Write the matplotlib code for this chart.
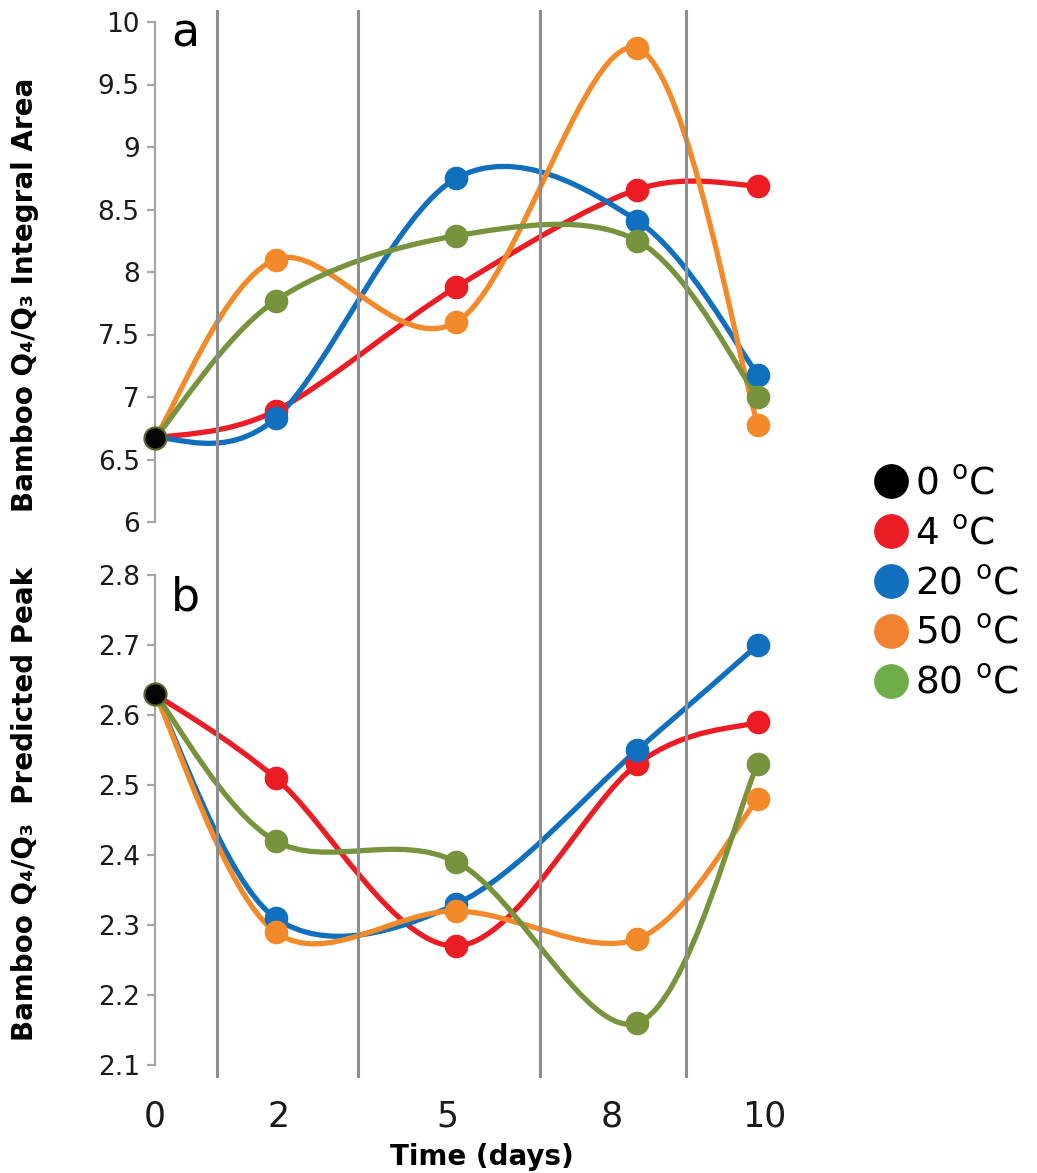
import numpy as np
import matplotlib
matplotlib.use('Agg')
import matplotlib.pyplot as plt
from matplotlib.path import Path
from matplotlib.patches import PathPatch
from matplotlib.lines import Line2D
from matplotlib.transforms import blended_transform_factory

# data
DAYS = [0, 2, 5, 8, 10]
DAY_LABELS = ['0', '2', '5', '8', '10']
TEMPS = ['4', '20', '50', '80']

START_AREA = 6.67
START_PEAK = 2.63

AREA_4C = [6.67, 6.89, 7.88, 8.66, 8.69]
AREA_20C = [6.67, 6.83, 8.75, 8.41, 7.18]
AREA_50C = [6.67, 8.10, 7.60, 9.79, 6.78]
AREA_80C = [6.67, 7.77, 8.29, 8.25, 7.00]

PEAK_4C = [2.63, 2.51, 2.27, 2.53, 2.59]
PEAK_20C = [2.63, 2.31, 2.33, 2.55, 2.70]
PEAK_50C = [2.63, 2.29, 2.32, 2.28, 2.48]
PEAK_80C = [2.63, 2.42, 2.39, 2.16, 2.53]

# vertical divider lines (days)
DIVIDERS = [1.03, 3.37, 6.38, 8.81]
# where the category labels sit under the axis
LABEL_POS = [0, 2.05, 4.85, 7.57, 10.1]

COLORS = ['#EC1C24', '#1070BE', '#F28A2A', '#77933C']
LEGEND_COLORS = ['#000000', '#EC1C24', '#1070BE', '#F08232', '#6EAD47']
GREY = '#8E8E8E'

W, H = 1037, 1173


def _smooth_path(ax, xs, ys):
	""" Excel-like smoothed line: cubic bezier segments built in screen space. """
	pts = ax.transData.transform(np.column_stack([xs, ys]))
	n = len(pts)
	verts = [pts[0]]
	codes = [Path.MOVETO]
	for i in range(n - 1):
		p0 = pts[max(i - 1, 0)]
		p1 = pts[i]
		p2 = pts[i + 1]
		p3 = pts[min(i + 2, n - 1)]
		verts += [p1 + (p2 - p0) / 6.0, p2 - (p3 - p1) / 6.0, p2]
		codes += [Path.CURVE4] * 3
	verts = ax.transData.inverted().transform(np.array(verts))
	return Path(verts, codes)


def _style_axis(ax, ylim, step):
	ax.set_xlim(0, 10.7)
	ax.set_ylim(*ylim)
	for side in ['top', 'right', 'bottom']:
		ax.spines[side].set_visible(False)
	ax.spines['left'].set_color('#A6A6A6')
	ax.spines['left'].set_linewidth(1.6)
	ax.set_yticks(np.arange(ylim[0], ylim[1] + step / 2, step))
	ax.tick_params(axis='y', direction='out', length=6, width=1.6, color='#A6A6A6',
		labelsize=19, pad=5, labelcolor='#1a1a1a')
	ax.tick_params(axis='x', length=0)
	ax.patch.set_visible(False)


def _draw_series(ax, series, start):
	for vals, color in zip(series, COLORS):
		path = _smooth_path(ax, DAYS, vals)
		ax.add_patch(PathPatch(path, fill=False, edgecolor=color, lw=3.8,
			capstyle='round', joinstyle='round', clip_on=False, zorder=3))
		ax.plot(DAYS[1:], vals[1:], 'o', ms=16, color=color, mec=color, clip_on=False, zorder=4)
	ax.plot([DAYS[0]], [start], 'o', ms=16, color='#050505', mec='#5C6B2A', mew=1.5,
		clip_on=False, zorder=5)


fig = plt.figure(figsize=(W / 100, H / 100), dpi=100)

ax_a = fig.add_axes([155 / W, 1 - 522 / H, 645 / W, 500 / H])
ax_b = fig.add_axes([155 / W, 1 - 1065 / H, 645 / W, 490 / H])

_style_axis(ax_a, (6, 10), 0.5)
_style_axis(ax_b, (2.1, 2.8), 0.1)
ax_a.set_yticklabels(['6', '6.5', '7', '7.5', '8', '8.5', '9', '9.5', '10'])
ax_a.set_xticks([])
ax_b.set_yticklabels(['2.1', '2.2', '2.3', '2.4', '2.5', '2.6', '2.7', '2.8'])
ax_b.set_xticks(LABEL_POS)
ax_b.set_xticklabels(DAY_LABELS)
ax_b.tick_params(axis='x', labelsize=25, pad=25, labelcolor='#1a1a1a')

# divider lines running through both panels
trans = blended_transform_factory(ax_b.transData, fig.transFigure)
for d in DIVIDERS:
	fig.add_artist(Line2D([d, d], [1 - 11 / H, 1 - 1076 / H], transform=trans,
		color=GREY, lw=2.2, zorder=1))

_draw_series(ax_a, [AREA_4C, AREA_20C, AREA_50C, AREA_80C], START_AREA)
_draw_series(ax_b, [PEAK_4C, PEAK_20C, PEAK_50C, PEAK_80C], START_PEAK)

ax_a.text(185 / W, 1 - 34 / H, 'a', transform=fig.transFigure, fontsize=33,
	ha='center', va='center')
ax_b.text(185 / W, 1 - 598 / H, 'b', transform=fig.transFigure, fontsize=33,
	ha='center', va='center')

fig.text(25 / W, 1 - 295 / H, 'Bamboo Q₄/Q₃ Integral Area', rotation=90,
	fontsize=20, fontweight='bold', ha='center', va='center')
fig.text(25 / W, 1 - 804 / H, 'Bamboo Q₄/Q₃  Predicted Peak', rotation=90,
	fontsize=20, fontweight='bold', ha='center', va='center')
fig.text(482 / W, 1 - 1157 / H, 'Time (days)', fontsize=20, fontweight='bold',
	ha='center', va='center')

# legend
labels = ['0 $^{\\mathrm{o}}$C'] + [t + ' $^{\\mathrm{o}}$C' for t in TEMPS]
handles = [Line2D([], [], ls='none', marker='o', ms=24, color=c) for c in LEGEND_COLORS]
fig.legend(handles, labels, loc='center left', bbox_to_anchor=(872 / W, 1 - 584 / H),
	frameon=False, fontsize=27, handlelength=1.0, handletextpad=0.15, labelspacing=0.37,
	borderpad=0, borderaxespad=0)

fig.savefig('out.png', dpi=100)
